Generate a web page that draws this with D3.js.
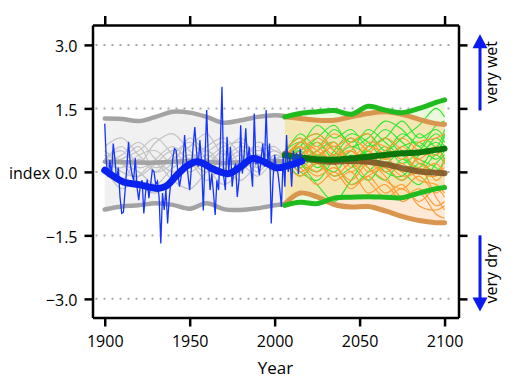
<!DOCTYPE html>
<html><head><meta charset="utf-8">
<script src="https://cdn.jsdelivr.net/npm/d3@7"></script>
<style>
html,body{margin:0;padding:0;background:#fff;}
text{font-family:"Open Sans",sans-serif;}
</style></head>
<body><svg id="c" width="520" height="386"></svg>
<script>
// ---------------- data ----------------
const xTicks = [1900, 1950, 2000, 2050, 2100];
const yTicks = [-3, -1.5, 0, 1.5, 3];

// observed annual index 1900..2016
const obsStart = 1900;
const obsValues = [1.14,0.2,-0.12,0.28,-0.1,0.67,0.3,-0.2,0.1,-0.6,
 -0.98,-0.95,-0.43,0.1,0.71,0.2,-0.04,-0.2,0.32,-0.35,
 -0.67,-0.3,-0.2,-0.98,-0.5,-0.18,-0.62,-0.3,0.04,0.0,
 -0.3,-0.22,-0.6,-1.69,-0.5,-0.9,-0.4,-1.22,-0.6,-0.2,
 0.3,0.55,0.51,0.0,-0.35,-0.1,0.2,0.87,0.3,-0.08,
 -0.43,0.1,0.59,1.06,0.5,0.12,0.75,0.2,-0.91,0.3,
 1.46,0.28,-0.43,-0.04,-0.5,-1.02,-0.2,-0.43,0.6,2.01,
 -0.1,-0.43,0.83,0.0,0.59,-0.35,0.04,0.2,-0.59,-0.2,
 1.1,-0.04,0.4,1.03,0.2,0.59,0.1,-0.35,1.38,0.2,
 0.25,-0.08,0.3,0.67,0.12,1.46,0.2,0.67,-1.22,-0.2,
 0.4,0.1,-0.04,-0.4,-0.83,0.35,-0.35,0.87,0.0,0.35,
 -0.35,0.5,0.1,0.45,-0.05,0.55,0.2];
// smoothed observed
const smoothYears  = [1900,1905,1911,1920,1931,1936,1942,1948,1954,1958,1963,1968,1973,1980,1987,1993,2001,2008,2016];
const smoothValues = [0.04,-0.1,-0.24,-0.3,-0.39,-0.34,-0.1,0.13,0.24,0.2,0.08,0.0,-0.04,0.12,0.32,0.25,0.1,0.15,0.25];

// historical model ensemble
const histYears  = [1900,1910,1920,1930,1940,1950,1960,1970,1980,1990,2000,2006];
const grayUpper  = [1.26,1.25,1.2,1.3,1.42,1.4,1.3,1.16,1.22,1.3,1.34,1.32];
const grayLower  = [-0.89,-0.82,-0.79,-0.74,-0.78,-0.87,-0.74,-0.88,-0.9,-0.86,-0.79,-0.76];
const grayMedian = [0.24,0.23,0.22,0.22,0.24,0.26,0.24,0.21,0.23,0.25,0.25,0.26];
const grayMembers = [
 [0.3,0.6,0.2,0.7,0.9,0.5,0.2,0.5,0.1,0.4,0.3,0.4],
 [0.1,-0.2,0.3,0.0,0.4,0.7,0.3,-0.1,0.3,0.6,0.2,0.3],
 [0.5,0.2,0.0,-0.3,0.1,0.3,0.6,0.8,0.4,0.0,0.4,0.3],
 [0.2,0.4,0.7,0.3,0.0,0.2,-0.2,0.2,0.5,0.3,0.1,0.4],
 [0.4,0.0,-0.1,0.2,0.5,0.1,0.4,0.1,-0.2,0.2,0.5,0.3],
 [0.0,0.3,0.5,0.8,0.4,0.0,0.3,0.6,0.7,0.4,0.2,0.3],
 [0.3,0.5,0.1,0.2,-0.2,-0.4,0.0,0.3,0.2,-0.1,0.3,0.4],
 [0.6,0.8,0.4,0.1,0.3,0.6,0.9,0.4,0.6,0.5,0.6,0.3],
 [0.2,0.1,0.4,0.5,0.2,0.4,0.1,-0.3,0.0,0.3,0.0,0.4],
 [0.1,-0.4,-0.1,0.3,0.6,0.3,0.5,0.2,0.4,0.1,0.4,0.3],
 [0.4,0.3,0.6,0.0,0.2,0.8,0.5,0.7,0.2,0.7,0.5,0.4],
 [0.3,0.2,-0.3,-0.5,-0.1,0.2,0.0,0.4,0.8,0.3,0.1,0.3]
];

// future projections
const futYears     = [2006,2015,2025,2035,2045,2055,2065,2075,2085,2095,2100];
const greenUpper   = [1.3,1.38,1.42,1.45,1.36,1.55,1.46,1.4,1.5,1.64,1.7];
const greenLower   = [-0.79,-0.72,-0.75,-0.62,-0.6,-0.59,-0.6,-0.61,-0.5,-0.4,-0.37];
const greenMedian  = [0.39,0.34,0.3,0.29,0.32,0.36,0.4,0.44,0.46,0.52,0.55];
const orangeUpper  = [1.3,1.26,1.22,1.22,1.3,1.38,1.42,1.36,1.24,1.14,1.12];
const orangeLower  = [-0.76,-0.5,-0.59,-0.77,-0.83,-0.82,-0.92,-1.05,-1.15,-1.2,-1.2];
const orangeMedian = [0.42,0.33,0.27,0.24,0.26,0.24,0.18,0.09,0.01,-0.02,-0.03];
const greenMembers = [
 [0.4,0.9,0.6,1.0,0.7,0.9,0.5,0.8,1.1,1.5,1.3],
 [0.3,0.5,0.1,0.4,0.8,0.3,0.6,0.2,0.5,0.9,0.7],
 [0.5,0.2,-0.3,-0.7,-0.2,0.3,0.1,-0.2,0.2,0.0,0.3],
 [0.3,0.7,0.9,0.5,0.2,0.6,1.0,0.7,0.4,0.8,0.6],
 [0.4,0.1,0.4,0.2,-0.3,0.0,0.4,0.9,0.6,0.3,0.5],
 [0.2,0.4,0.7,0.3,0.5,1.0,0.7,0.4,0.9,0.6,1.0],
 [0.5,0.8,0.3,0.0,0.4,0.1,-0.2,0.3,0.0,0.4,0.2],
 [0.3,0.0,-0.2,0.3,0.6,0.4,0.2,0.5,0.3,0.1,-0.1],
 [0.4,0.6,1.1,0.8,1.0,0.6,0.8,1.2,0.8,1.0,0.8],
 [0.3,0.3,0.5,0.7,0.2,-0.2,0.2,0.0,-0.3,0.2,0.4],
 [0.4,0.2,0.0,0.5,0.9,0.7,0.3,0.6,0.7,0.4,0.9],
 [0.5,0.7,0.4,0.6,0.3,0.5,0.8,0.4,0.1,0.6,0.3],
 [0.3,-0.1,0.2,-0.1,0.1,0.5,0.0,-0.1,0.4,0.7,0.5],
 [0.4,0.5,0.8,1.1,0.6,0.8,1.2,1.0,0.6,1.1,1.2]
];
const orangeMembers = [
 [0.4,0.7,0.9,0.6,0.8,0.5,0.3,0.6,0.2,0.0,0.1],
 [0.3,0.1,-0.3,0.0,-0.4,-0.1,-0.5,-0.3,-0.8,-0.9,-0.8],
 [0.5,0.8,0.4,0.7,0.2,0.6,0.4,0.0,0.3,-0.2,0.0],
 [0.3,0.4,0.6,0.2,0.5,0.1,-0.2,-0.4,-0.1,-0.5,-0.3],
 [0.4,0.2,0.5,0.9,0.6,0.2,0.5,0.8,0.5,0.4,0.6],
 [0.2,-0.1,0.2,-0.2,0.0,-0.5,-0.3,-0.7,-0.5,-1.0,-1.1],
 [0.4,0.6,0.2,0.4,0.0,0.3,0.0,0.2,-0.2,-0.3,-0.5],
 [0.3,0.5,0.8,0.5,0.3,0.7,0.6,0.3,0.7,0.8,0.9],
 [0.5,0.3,0.0,0.3,0.5,0.0,0.2,-0.1,0.0,0.2,-0.1],
 [0.3,0.6,0.3,-0.1,0.2,-0.2,-0.6,-0.4,-0.7,-0.4,-0.6],
 [0.4,0.0,0.3,0.6,0.1,0.4,0.8,0.5,0.0,-0.1,0.3],
 [0.3,0.7,0.5,0.2,-0.3,-0.1,0.1,-0.2,0.1,-0.6,-0.9],
 [0.5,0.3,0.7,0.4,0.7,0.9,0.3,0.5,0.3,0.6,0.2],
 [0.4,0.2,-0.1,0.1,-0.2,0.2,-0.1,-0.6,-0.4,-0.8,-0.7]
];

// ---------------- drawing ----------------
const svg = d3.select("#c");
const L = 92.5, R = 458.5, T = 25, B = 317.5;
const x = d3.scaleLinear().domain([1892.8, 2108.2]).range([L, R]);
const y = d3.scaleLinear().domain([-3.44, 3.47]).range([B, T]);

const curve = d3.curveCatmullRom.alpha(0.5);
const line = (xs) => d3.line().x((d,i)=>x(xs[i])).y(d=>y(d)).curve(curve);
const band = (xs, lo, hi) => d3.area().x((d,i)=>x(xs[i])).y0((d,i)=>y(lo[i])).y1((d,i)=>y(hi[i])).curve(curve)(xs);

// grid
svg.append("g").selectAll("line").data(yTicks).join("line")
  .attr("x1", L+3).attr("x2", R-3)
  .attr("y1", d=>y(d)).attr("y2", d=>y(d))
  .attr("stroke", "#a8a8a8").attr("stroke-width", 2).attr("stroke-dasharray", "2,6");

// fills
svg.append("path").attr("d", band(histYears, grayLower, grayUpper)).attr("fill", "#f1f1f1");
svg.append("path").attr("d", band(futYears, greenLower, greenUpper)).attr("fill", "#ebfadc");
svg.append("path").attr("d", band(futYears, orangeLower, orangeUpper)).attr("fill", "#fde9d6");
const ovLo = orangeLower.map((v,i)=>Math.max(v, greenLower[i]));
const ovHi = orangeUpper.map((v,i)=>Math.min(v, greenUpper[i]));
svg.append("path").attr("d", band(futYears, ovLo, ovHi)).attr("fill", "#f3e6b3");

// thin members
const drawMembers = (xs, arr, color, w) => svg.append("g").selectAll("path").data(arr).join("path")
  .attr("d", d=>line(xs)(d)).attr("fill","none").attr("stroke", color).attr("stroke-width", w);
drawMembers(histYears, grayMembers, "#c2c2c2", 1.2);

// gray thick
[grayUpper, grayLower, grayMedian].forEach(arr =>
  svg.append("path").attr("d", line(histYears)(arr)).attr("fill","none")
    .attr("stroke", "#a3a3a3").attr("stroke-width", 4.5).attr("stroke-linecap","round"));

drawMembers(futYears, greenMembers, "#2ee82e", 1.1);
drawMembers(futYears, orangeMembers, "#ff9a30", 1.1);

// bounds
[orangeUpper, orangeLower].forEach(arr =>
  svg.append("path").attr("d", line(futYears)(arr)).attr("fill","none")
    .attr("stroke", "#d9964f").attr("stroke-width", 5).attr("stroke-linecap","round"));
[greenUpper, greenLower].forEach(arr =>
  svg.append("path").attr("d", line(futYears)(arr)).attr("fill","none")
    .attr("stroke", "#1fbb1f").attr("stroke-width", 5).attr("stroke-linecap","round"));
// medians
svg.append("path").attr("d", line(futYears)(orangeMedian)).attr("fill","none")
  .attr("stroke", "#7a4f22").attr("stroke-opacity", 0.85).attr("stroke-width", 6).attr("stroke-linecap","round");
svg.append("path").attr("d", line(futYears)(greenMedian)).attr("fill","none")
  .attr("stroke", "#0b760b").attr("stroke-width", 6).attr("stroke-linecap","round");

// observed
svg.append("path").attr("d", d3.line().x((d,i)=>x(obsStart+i)).y(d=>y(d))(obsValues))
  .attr("fill","none").attr("stroke","#1535ff").attr("stroke-width",1.3);
svg.append("path").attr("d", line(smoothYears)(smoothValues))
  .attr("fill","none").attr("stroke","#0a22ee").attr("stroke-width",7).attr("stroke-linecap","round");

// axes / frame
const fmt = d3.format(".1f");
const styleAxis = g => {
  g.selectAll("path.domain").attr("stroke","#000").attr("stroke-width",2.5);
  g.selectAll(".tick line").attr("stroke","#000").attr("stroke-width",2.5);
  g.selectAll("text").attr("font-family","'Open Sans',sans-serif").attr("font-size",16).attr("fill","#000");
};
svg.append("g").attr("transform",`translate(0,${B})`)
  .call(d3.axisBottom(x).tickValues(xTicks).tickFormat(d3.format("d")).tickSize(9).tickSizeOuter(0).tickPadding(9))
  .call(styleAxis);
svg.append("g").attr("transform",`translate(0,${T})`)
  .call(d3.axisTop(x).tickValues(xTicks).tickFormat("").tickSize(9).tickSizeOuter(0))
  .call(styleAxis);
svg.append("g").attr("transform",`translate(${L},0)`)
  .call(d3.axisLeft(y).tickValues(yTicks).tickFormat(fmt).tickSize(8).tickSizeOuter(0).tickPadding(7))
  .call(styleAxis)
  .call(g=>g.selectAll("text").attr("dy","0.42em"));
svg.append("g").attr("transform",`translate(${R},0)`)
  .call(d3.axisRight(y).tickValues(yTicks).tickFormat("").tickSize(9).tickSizeOuter(0))
  .call(styleAxis);

// axis titles
svg.append("text").attr("x", (L+R)/2).attr("y", 374).attr("text-anchor","middle")
  .attr("font-size",17).text("Year");
svg.append("text").attr("x", 9).attr("y", y(0)).attr("dy","0.42em")
  .attr("font-size",16).text("index");

// arrows on right
const ax = 480;
const arrow = (from, to, label) => {
  const dir = Math.sign(to - from);
  svg.append("line").attr("x1",ax).attr("x2",ax).attr("y1",y(from)).attr("y2",y(to) + dir*12)
    .attr("stroke","#0a1af0").attr("stroke-width",3);
  const tip = y(to), base = y(to) + dir*14;
  svg.append("path").attr("d",`M${ax},${tip}L${ax-7.5},${base}L${ax+7.5},${base}Z`).attr("fill","#0a1af0");
  svg.append("text").attr("transform",`translate(497,${(y(from)+y(to))/2}) rotate(-90)`)
    .attr("text-anchor","middle").attr("font-size",16).text(label);
};
arrow(1.45, 3.25, "very wet");
arrow(-1.5, -3.3, "very dry");
</script></body></html>
